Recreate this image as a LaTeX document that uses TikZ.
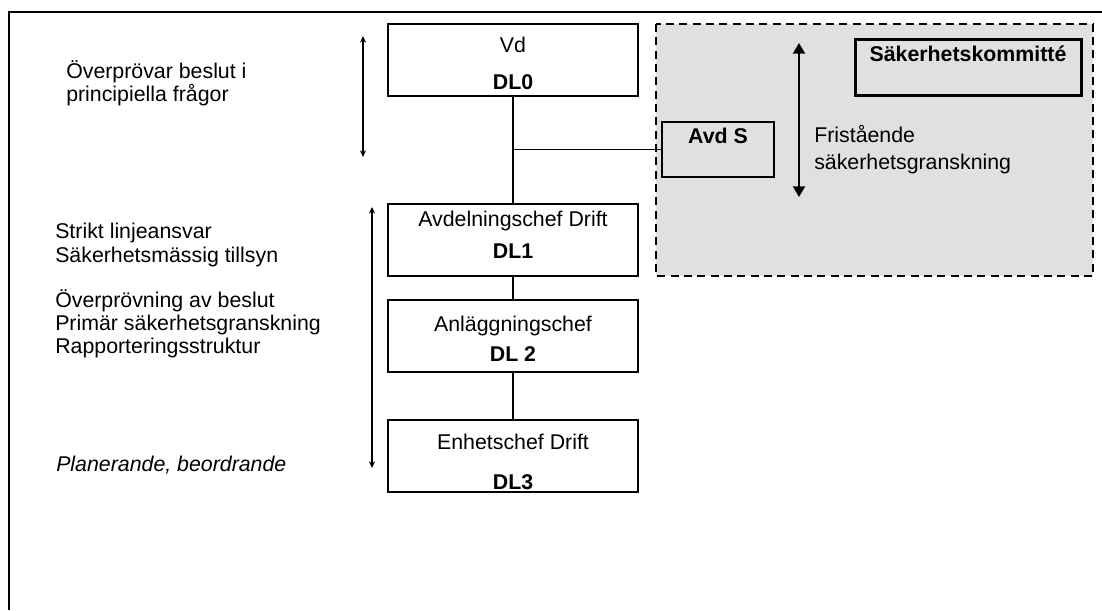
\documentclass[tikz,border=0pt]{standalone}
\usepackage{fontspec}
\setmainfont{Liberation Sans}
\usetikzlibrary{arrows.meta,positioning}

\begin{document}
\begin{tikzpicture}[x=0.75pt,y=-0.75pt,
    every node/.style={font=\fontsize{16}{17.25}\selectfont},
    chef/.style={draw=black,line width=1.5pt,fill=white,minimum width=187.5pt,minimum height=54pt,align=center,inner sep=0pt},
    side/.style={anchor=west,align=left,inner sep=0pt},
    link/.style={draw=black,line width=0.8pt},
    span/.style={line width=1.1pt,{Stealth[length=5pt,width=4.5pt]}-{Stealth[length=5pt,width=4.5pt]}}]
    \useasboundingbox (0,0) rectangle (1102,610);
    % frame
    \draw[line width=1.5pt] (1102,12) -- (9,12) -- (9,610);
    % independent safety review
    \path[fill=gray!24,draw=black,line width=1.5pt,dash pattern=on 6pt off 4pt] (656,24) rectangle (1093,276);
    \node[draw=black,line width=2.25pt,minimum width=169.5pt,minimum height=41.25pt] (komm) at (968,67.5) {};
    \node[anchor=north,inner sep=0pt,yshift=-5pt] at (komm.north) {\textbf{Säkerhetskommitté}};
    \node[draw=black,line width=1.5pt,minimum width=84pt,minimum height=41.25pt] (avds) at (718,149.5) {};
    \node[anchor=north,inner sep=0pt,yshift=-5pt] at (avds.north) {\textbf{Avd S}};
    \draw[line width=1.5pt,{Triangle[length=8pt,width=9pt]}-{Triangle[length=8pt,width=9pt]}] (799,43) -- (799,197);
    \node[side,align=left,font=\fontsize{16}{20.25}\selectfont] (fri) at (814,149.5) {Fristående\\säkerhetsgranskning};
    % line organisation
    \node[chef] (dl0) at (513,60) {\rule{0pt}{16pt}Vd\\[10.5pt]\textbf{DL0}};
    \node[chef] (dl1) at (513,239.5) {Avdelningschef Drift\\[6.75pt]\textbf{DL1}\rule[-6.75pt]{0pt}{6.75pt}};
    \node[chef] (dl2) at (513,336) {\rule{0pt}{16pt}Anläggningschef\\[5.25pt]\textbf{DL 2}};
    \node[chef] (dl3) at (513,456) {\rule{0pt}{20.5pt}Enhetschef Drift\\[12.75pt]\textbf{DL3}};
    \draw[link] (dl0.south) -- (dl1.north);
    \draw[link] (dl0.south |- avds.west) -- (avds.west);
    \draw[link] (dl1.south) -- (dl2.north);
    \draw[link] (dl2.south) -- (dl3.north);
    % responsibilities
    \draw[span] (363,36) -- (363,157);
    \draw[span] (372,207) -- (372,468);
    \node[side] (dl0txt) at (66,83.5) {Överprövar beslut i\\principiella frågor};
    \node[side,font=\fontsize{16}{18}\selectfont] (linje) at (55,245) {Strikt linjeansvar\\Säkerhetsmässig tillsyn};
    \node[side] (prov) at (55,323.5) {Överprövning av beslut\\Primär säkerhetsgranskning\\Rapporteringsstruktur};
    \node[side] (plan) at (56,465) {\itshape Planerande, beordrande};
\end{tikzpicture}
\end{document}
